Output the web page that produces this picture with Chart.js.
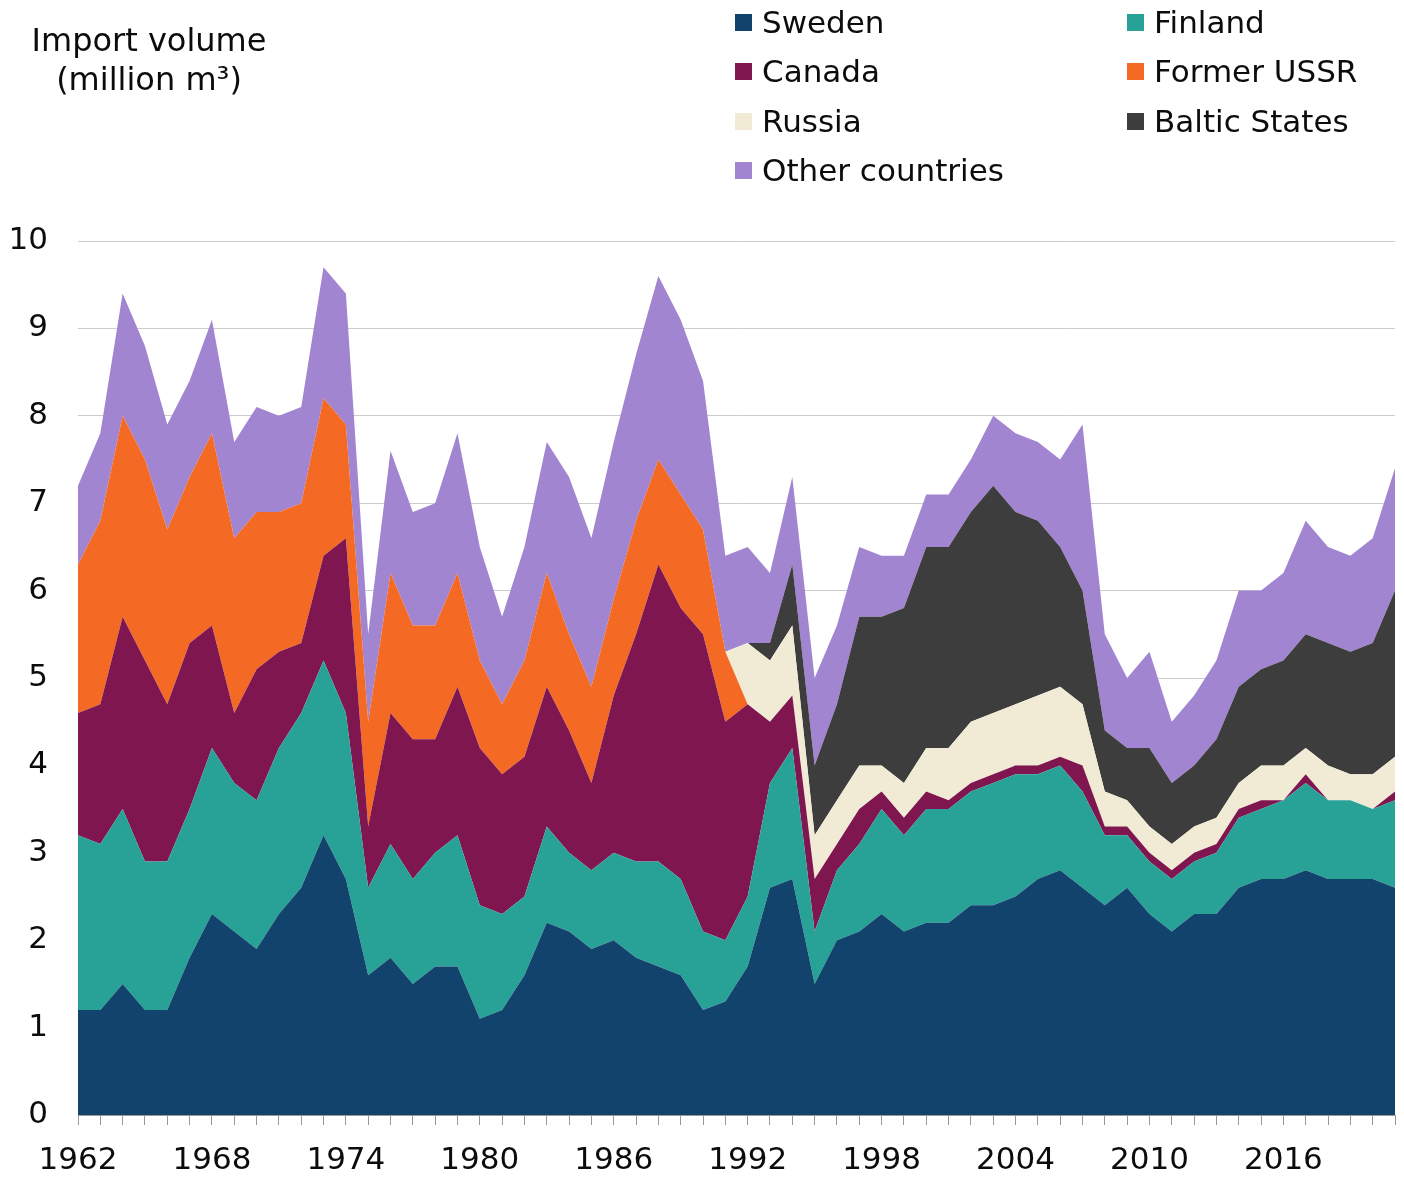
<!DOCTYPE html>
<html>
<head>
<meta charset="utf-8">
<script src="https://cdn.jsdelivr.net/npm/chart.js@4.4.1/dist/chart.umd.min.js"></script>
<style>
  html, body { margin: 0; padding: 0; background: #fff; overflow: hidden; }
  body { font-family: "DejaVu Sans", Verdana, sans-serif; color: #0b0c0c; }
  #wrap { position: relative; width: 1404px; height: 1178px; }
  #importChart { display: block; }
  #ytitle {
    position: absolute; left: 0; top: 21px; width: 298px;
    text-align: center; font-size: 32px; line-height: 39px;
  }
  #legend {
    position: absolute; left: 735px; top: -2px; width: 660px;
    display: grid; grid-template-columns: 392px auto;
    font-size: 31px; line-height: 49.3px;
  }
  .item { display: flex; align-items: center; white-space: nowrap; }
  .box { width: 17px; height: 17px; margin-right: 10px; flex: none; }
</style>
</head>
<body>
<div id="wrap">
  <canvas id="importChart"></canvas>
  <div id="ytitle">Import volume<br>(million m³)</div>
  <div id="legend"></div>
</div>
<script>
// Import volume by country of origin, million m3
const years = ['1962','1963','1964','1965','1966','1967','1968','1969','1970','1971',
  '1972','1973','1974','1975','1976','1977','1978','1979','1980','1981',
  '1982','1983','1984','1985','1986','1987','1988','1989','1990','1991',
  '1992','1993','1994','1995','1996','1997','1998','1999','2000','2001',
  '2002','2003','2004','2005','2006','2007','2008','2009','2010','2011',
  '2012','2013','2014','2015','2016','2017','2018','2019','2020','2021'];
const tickYears = ['1962','1968','1974','1980','1986','1992','1998','2004','2010','2016'];

const sweden = [1.2,1.2,1.5,1.2,1.2,1.8,2.3,2.1,1.9,2.3,
  2.6,3.2,2.7,1.6,1.8,1.5,1.7,1.7,1.1,1.2,
  1.6,2.2,2.1,1.9,2.0,1.8,1.7,1.6,1.2,1.3,
  1.7,2.6,2.7,1.5,2.0,2.1,2.3,2.1,2.2,2.2,
  2.4,2.4,2.5,2.7,2.8,2.6,2.4,2.6,2.3,2.1,
  2.3,2.3,2.6,2.7,2.7,2.8,2.7,2.7,2.7,2.6];
const finland = [2.0,1.9,2.0,1.7,1.7,1.7,1.9,1.7,1.7,1.9,
  2.0,2.0,1.9,1.0,1.3,1.2,1.3,1.5,1.3,1.1,
  0.9,1.1,0.9,0.9,1.0,1.1,1.2,1.1,0.9,0.7,
  0.8,1.2,1.5,0.6,0.8,1.0,1.2,1.1,1.3,1.3,
  1.3,1.4,1.4,1.2,1.2,1.1,0.8,0.6,0.6,0.6,
  0.6,0.7,0.8,0.8,0.9,1.0,0.9,0.9,0.8,1.0];
const canada = [1.4,1.6,2.2,2.3,1.8,1.9,1.4,0.8,1.5,1.1,
  0.8,1.2,2.0,0.7,1.5,1.6,1.3,1.7,1.8,1.6,
  1.6,1.6,1.4,1.0,1.8,2.6,3.4,3.1,3.4,2.5,
  2.2,0.7,0.6,0.6,0.3,0.4,0.2,0.2,0.2,0.1,
  0.1,0.1,0.1,0.1,0.1,0.3,0.1,0.1,0.1,0.1,
  0.1,0.1,0.1,0.1,0,0.1,0,0,0,0.1];
const formerUSSR = [1.7,2.1,2.3,2.3,2.0,1.9,2.2,2.0,1.8,1.6,
  1.6,1.8,1.3,1.2,1.6,1.3,1.3,1.3,1.0,0.8,
  1.1,1.3,1.1,1.1,1.1,1.3,1.2,1.3,1.2,0.8,
  0,0,0,0,0,0,0,0,0,0,
  0,0,0,0,0,0,0,0,0,0,
  0,0,0,0,0,0,0,0,0,0];
const russia = [0,0,0,0,0,0,0,0,0,0,
  0,0,0,0,0,0,0,0,0,0,
  0,0,0,0,0,0,0,0,0,0,
  0.7,0.7,0.8,0.5,0.5,0.5,0.3,0.4,0.5,0.6,
  0.7,0.7,0.7,0.8,0.8,0.7,0.4,0.3,0.3,0.3,
  0.3,0.3,0.3,0.4,0.4,0.3,0.4,0.3,0.4,0.4];
const baltic = [0,0,0,0,0,0,0,0,0,0,
  0,0,0,0,0,0,0,0,0,0,
  0,0,0,0,0,0,0,0,0,0,
  0,0.2,0.7,0.8,1.1,1.7,1.7,2.0,2.3,2.3,
  2.4,2.6,2.2,2.0,1.6,1.3,0.7,0.6,0.9,0.7,
  0.7,0.9,1.1,1.1,1.2,1.3,1.4,1.4,1.5,1.9];
const other = [0.9,1.0,1.4,1.3,1.2,1.1,1.3,1.1,1.2,1.1,
  1.1,1.5,1.5,1.0,1.4,1.3,1.4,1.6,1.3,1.0,
  1.3,1.5,1.8,1.7,1.8,1.9,2.1,2.0,1.7,1.1,
  1.1,0.8,1.0,1.0,0.9,0.8,0.7,0.6,0.6,0.6,
  0.6,0.8,0.9,0.9,1.0,1.9,1.1,0.8,1.1,0.7,
  0.8,0.9,1.1,0.9,1.0,1.3,1.1,1.1,1.2,1.4];

const series = [
  {label:'Sweden', data:sweden, color:'#12436D'},
  {label:'Finland', data:finland, color:'#28A197'},
  {label:'Canada', data:canada, color:'#801650'},
  {label:'Former USSR', data:formerUSSR, color:'#F46A25'},
  {label:'Russia', data:russia, color:'#F1EBD6'},
  {label:'Baltic States', data:baltic, color:'#3D3D3D'},
  {label:'Other countries', data:other, color:'#A285D1'}
];

// legend as plain html, two columns like the original
const legend = document.getElementById('legend');
series.forEach(s => {
  const item = document.createElement('div');
  item.className = 'item';
  item.innerHTML = '<span class="box" style="background:' + s.color + '"></span>' + s.label;
  legend.appendChild(item);
});

const ctx = document.getElementById('importChart');
const importChart = new Chart(ctx, {
  type: 'line',
  data: {
    labels: years,
    datasets: series.map((s, i) => ({
      label: s.label,
      data: s.data,
      backgroundColor: s.color,
      borderColor: s.color,
      borderWidth: 0,
      pointRadius: 0,
      tension: 0,
      fill: i === 0 ? 'origin' : '-1'
    }))
  },
  options: {
    responsive: true,
    maintainAspectRatio: false,
    animation: false,
    layout: {
      padding: {left: 9, right: 9, top: 241, bottom: 0}
    },
    plugins: {
      legend: {display: false},
      tooltip: {enabled: false}
    },
    scales: {
      x: {
        offset: false,
        afterFit: function (scale) {
          scale.height = 63;
          scale.paddingLeft = 0;
          scale.paddingRight = 0;
        },
        grid: {
          drawOnChartArea: false,
          drawTicks: true,
          tickLength: 10,
          color: '#999999'
        },
        border: {display: true, color: '#999999', width: 1},
        ticks: {
          autoSkip: false,
          maxRotation: 0,
          padding: 17,
          color: '#0b0c0c',
          font: {size: 31, family: 'DejaVu Sans'},
          callback: function (v, i) {
            return tickYears.includes(years[i]) ? years[i] : '';
          }
        }
      },
      y: {
        stacked: true,
        min: 0,
        max: 10,
        afterFit: function (scale) { scale.width = 69; },
        grid: {
          drawTicks: false,
          color: '#cccccc'
        },
        border: {display: false},
        ticks: {
          stepSize: 1,
          padding: 30,
          color: '#0b0c0c',
          font: {size: 31, family: 'DejaVu Sans'}
        }
      }
    }
  }
});
</script>
</body>
</html>
